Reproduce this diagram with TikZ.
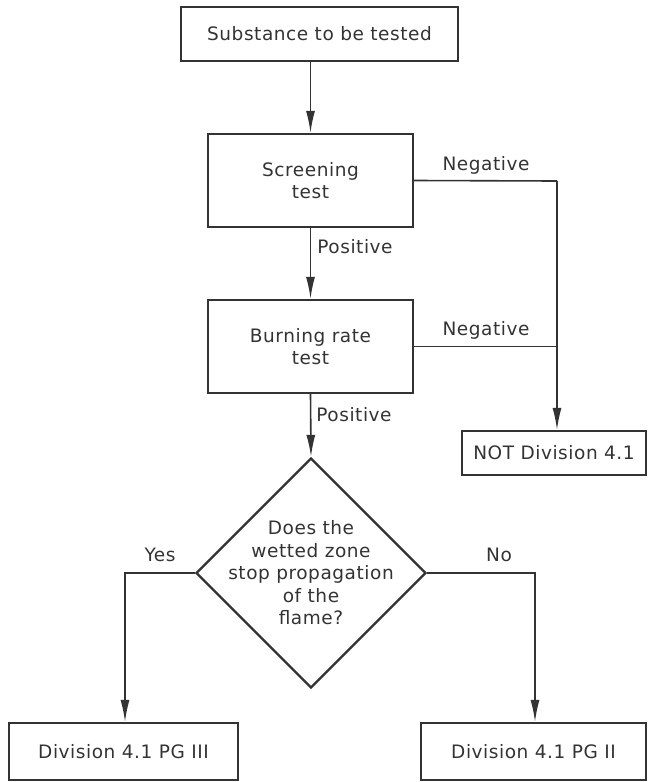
\documentclass[tikz,border=0pt]{standalone}
\usepackage{fontspec}
\setmainfont{DejaVu Sans}[LetterSpace=3]
\usetikzlibrary{shapes.geometric,arrows.meta}
\definecolor{ink}{HTML}{333333}
\begin{document}
\begin{tikzpicture}[x=1pt,y=-1pt,
  font=\fontsize{18.5}{22.5}\selectfont,
  every node/.style={text=ink},
  box/.style={draw=ink,line width=2.2pt,inner sep=0pt,align=center},
  dia/.style={draw=ink,line width=2.4pt,shape=diamond,inner sep=0pt,minimum width=230pt,minimum height=230pt},
  conn/.style={draw=ink,line width=1.6pt},
  arr/.style={conn,-{Latex[length=22pt,width=9pt]}},
  lbl/.style={inner sep=0pt}]
\useasboundingbox (0,0) rectangle (648,782);
\node[box,minimum width=277pt,minimum height=54pt] (top) at (319.5,34) {Substance to be tested};
\node[box,minimum width=205pt,minimum height=93pt] (scr) at (310.5,180.5) {Screening\\test};
\node[box,minimum width=205pt,minimum height=93pt] (burn) at (310.5,346.5) {Burning rate\\test};
\node[box,minimum width=184pt,minimum height=44pt] (nodiv) at (554,453) {NOT Division 4.1};
\node[dia] (q) at (311,573) {};
\node[lbl,align=center] (qtext) at (q.center) {Does the\\wetted zone\\stop propagation\\of the\\flame?};
\node[box,minimum width=229pt,minimum height=57pt] (pg3) at (123.5,751.5) {Division 4.1 PG III};
\node[box,minimum width=225pt,minimum height=57pt] (pg2) at (533.5,751.5) {Division 4.1 PG II};
\coordinate (negc) at (557,181);
\coordinate (yesc) at (125,573);
\coordinate (noc) at (535,573);
\draw[arr] (top.south -| scr.north) -- (scr.north);
\draw[arr] (scr.south) -- (burn.north);
\draw[arr] (burn.south) -- (q.north);
\draw[conn] (scr.east) -- (negc);
\draw[conn] (burn.east) -- (burn.east -| negc);
\draw[arr] (negc) -- (negc |- nodiv.north);
\draw[arr] (q.west) -- (yesc) -- (yesc |- pg3.north);
\draw[arr] (q.east) -- (noc) -- (noc |- pg2.north);
\node[lbl] (neg1) at (486,165) {Negative};
\node[lbl] (neg2) at (486,330) {Negative};
\node[lbl] (pos1) at (355,247) {Positive};
\node[lbl] (pos2) at (354,415) {Positive};
\node[lbl] (yes) at (160,555) {Yes};
\node[lbl] (no) at (499,555) {No};
\end{tikzpicture}
\end{document}
